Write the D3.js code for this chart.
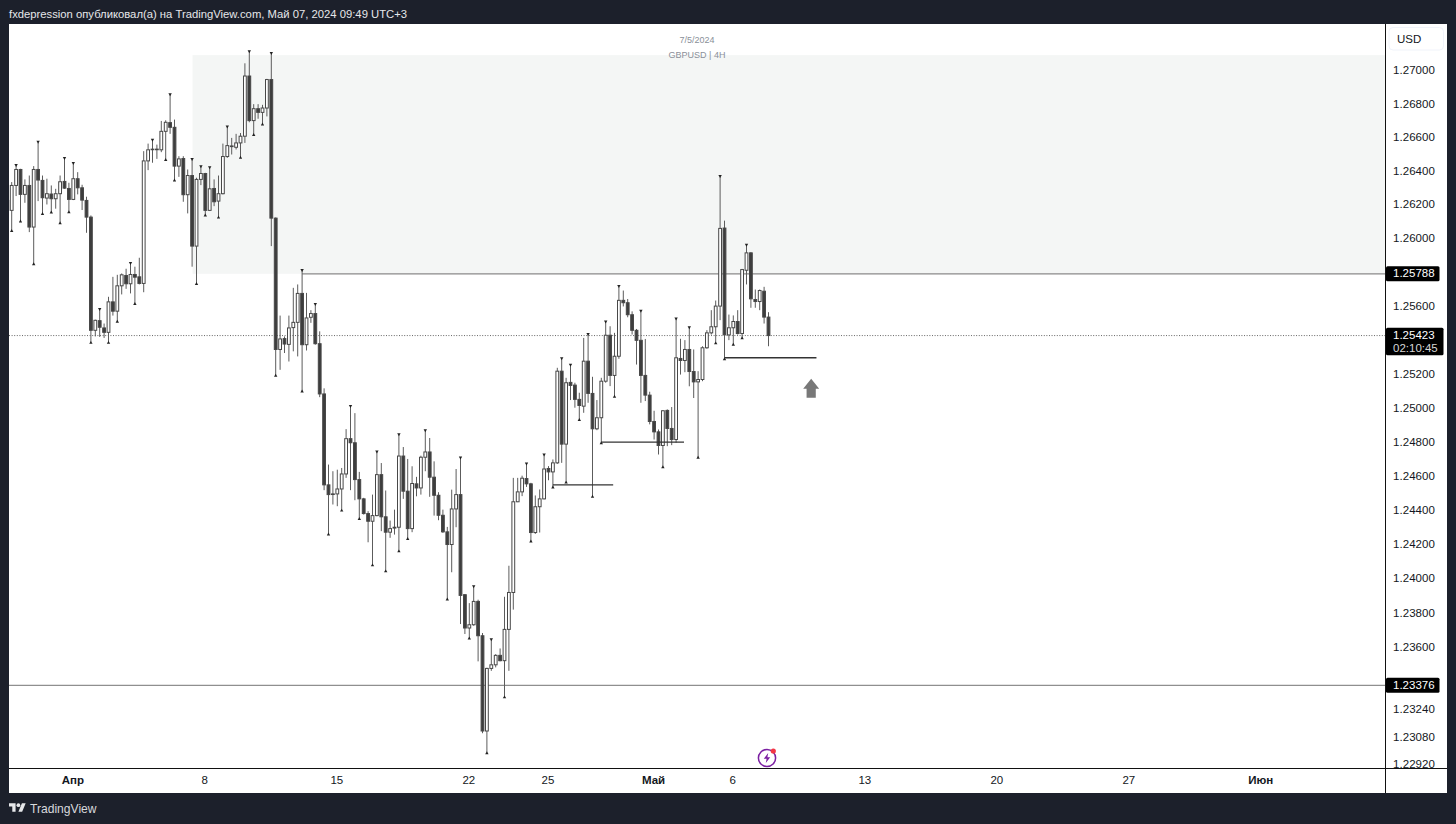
<!DOCTYPE html>
<html>
<head>
<meta charset="utf-8">
<script src="https://cdn.jsdelivr.net/npm/d3@7/dist/d3.min.js"></script>
<style>
html,body{margin:0;padding:0;background:#1c202b;overflow:hidden}
text{font-family:"Liberation Sans",Arial,sans-serif}
</style>
</head>
<body>
<svg id="chart" width="1456" height="824"></svg>
<script>
// 4H GBPUSD bars, first bar is clipped by the left edge
var opens = [1.26223,1.26164,1.26312,1.26407,1.26259,1.26312,1.26065,1.26407,1.26342,1.26237,1.26261,1.26233,1.26263,1.26336,1.26294,1.26229,1.26352,1.26298,1.26223,1.26124,
1.25454,1.25511,1.25468,1.25442,1.25622,1.25567,1.25717,1.25778,1.25729,1.25784,1.25770,1.25731,1.26458,1.26526,1.26526,1.26524,1.26634,1.26686,1.26658,1.26427,
1.26472,1.26257,1.26371,1.25952,1.26348,1.26383,1.26164,1.26294,1.26219,1.26263,1.26484,1.26547,1.26539,1.26565,1.26605,1.26964,1.26698,1.26769,1.26747,1.26773,
1.26943,1.26118,1.25341,1.25405,1.25371,1.25470,1.25501,1.25672,1.25369,1.25531,1.25553,1.25375,1.25079,1.24545,1.24492,1.24492,1.24521,1.24609,1.24816,1.24792,
1.24576,1.24463,1.24377,1.24332,1.24365,1.24605,1.24358,1.24268,1.24292,1.24297,1.24714,1.24508,1.24289,1.24551,1.24527,1.24707,1.24738,1.24590,1.24484,1.24367,
1.24270,1.24196,1.24404,1.24488,1.23903,1.23709,1.23728,1.23864,1.23664,1.23111,1.23474,1.23495,1.23550,1.23519,1.23701,1.23916,1.24446,1.24504,1.24582,1.24551,
1.24266,1.24417,1.24463,1.24641,1.24621,1.24674,1.25213,1.24784,1.25147,1.25131,1.25047,1.25007,1.25272,1.25082,1.24874,1.24939,1.25154,1.25425,1.25188,1.25301,
1.25631,1.25617,1.25546,1.25454,1.25395,1.25188,1.25072,1.24917,1.24856,1.24776,1.24982,1.24876,1.24811,1.25288,1.25276,1.25341,1.25211,1.25150,1.25164,1.25351,
1.25439,1.25475,1.25597,1.26059,1.25427,1.25469,1.25506,1.25435,1.25809,1.25912,1.25636,1.25624,1.25685,1.25532];
var highs = [1.26407,1.26332,1.26431,1.26411,1.26348,1.26371,1.26427,1.26569,1.26371,1.26352,1.26312,1.26292,1.26371,1.26472,1.26328,1.26443,1.26391,1.26316,1.26245,1.26134,
1.25517,1.25577,1.25494,1.25652,1.25770,1.25782,1.25790,1.25818,1.25849,1.25830,1.25883,1.26516,1.26561,1.26581,1.26555,1.26696,1.26700,1.26852,1.26704,1.26486,
1.26486,1.26407,1.26466,1.26358,1.26423,1.26387,1.26417,1.26348,1.26371,1.26561,1.26660,1.26595,1.26619,1.26624,1.27040,1.27109,1.26796,1.26796,1.26792,1.26947,
1.27099,1.26122,1.25541,1.25418,1.25541,1.25705,1.25725,1.25808,1.25675,1.25573,1.25606,1.25448,1.25112,1.24664,1.24625,1.24634,1.24644,1.24872,1.25005,1.24966,
1.24621,1.24469,1.24391,1.24488,1.24738,1.24673,1.24512,1.24336,1.24400,1.24839,1.24767,1.24697,1.24654,1.24592,1.24716,1.24863,1.24820,1.24683,1.24502,1.24400,
1.24299,1.24517,1.24638,1.24703,1.23907,1.23854,1.23949,1.23874,1.23680,1.23478,1.23641,1.23557,1.23590,1.23891,1.24072,1.24586,1.24586,1.24599,1.24667,1.24557,
1.24483,1.24518,1.24720,1.24655,1.24694,1.25233,1.25286,1.25174,1.25248,1.25145,1.25086,1.25409,1.25429,1.25180,1.25043,1.25174,1.25503,1.25478,1.25439,1.25713,
1.25689,1.25639,1.25566,1.25462,1.25566,1.25403,1.25092,1.24980,1.24870,1.24984,1.24988,1.25002,1.25521,1.25404,1.25396,1.25469,1.25341,1.25213,1.25360,1.25455,
1.25573,1.25630,1.26365,1.26103,1.25547,1.25542,1.25573,1.25817,1.25957,1.25916,1.25695,1.25695,1.25711,1.25561];
var lows = [1.26140,1.26045,1.26249,1.26101,1.26209,1.26035,1.25847,1.26219,1.26146,1.26199,1.26154,1.26174,1.26091,1.26292,1.26156,1.26225,1.26259,1.26166,1.26031,1.25383,
1.25418,1.25415,1.25409,1.25383,1.25541,1.25507,1.25666,1.25699,1.25672,1.25612,1.25725,1.25679,1.26403,1.26447,1.26470,1.26510,1.26466,1.26619,1.26344,1.26363,
1.26215,1.26146,1.25830,1.25731,1.26314,1.26136,1.26160,1.26189,1.26124,1.26259,1.26476,1.26496,1.26526,1.26480,1.26565,1.26688,1.26615,1.26709,1.26678,1.26723,
1.25952,1.25189,1.25221,1.25320,1.25270,1.25330,1.25300,1.25096,1.25335,1.25498,1.25369,1.25060,1.24514,1.24258,1.24430,1.24420,1.24397,1.24586,1.24514,1.24455,
1.24348,1.24371,1.24209,1.24077,1.24361,1.24274,1.24042,1.24235,1.24254,1.24159,1.24463,1.24231,1.24268,1.24478,1.24488,1.24625,1.24475,1.24365,1.24338,1.24264,
1.23878,1.24034,1.24297,1.23732,1.23674,1.23651,1.23722,1.23515,1.23098,1.22985,1.23460,1.23480,1.23515,1.23309,1.23460,1.23816,1.24444,1.24479,1.24533,1.24217,
1.24258,1.24266,1.24460,1.24572,1.24533,1.24668,1.24674,1.24561,1.25043,1.24998,1.24929,1.24968,1.25027,1.24478,1.24866,1.24792,1.25145,1.25125,1.25066,1.25286,
1.25595,1.25531,1.25429,1.25252,1.25027,1.25037,1.24900,1.24811,1.24723,1.24651,1.24772,1.24778,1.24792,1.25193,1.25207,1.25124,1.25055,1.24707,1.25154,1.25345,
1.25429,1.25380,1.25514,1.25286,1.25396,1.25372,1.25429,1.25410,1.25725,1.25587,1.25587,1.25573,1.25494,1.25360];
var closes = [1.26164,1.26312,1.26407,1.26259,1.26312,1.26065,1.26407,1.26344,1.26239,1.26263,1.26233,1.26263,1.26334,1.26296,1.26229,1.26352,1.26298,1.26225,1.26124,1.25454,
1.25513,1.25472,1.25442,1.25622,1.25567,1.25717,1.25782,1.25729,1.25784,1.25768,1.25731,1.26458,1.26524,1.26528,1.26528,1.26634,1.26688,1.26658,1.26427,1.26470,
1.26257,1.26371,1.25952,1.26348,1.26383,1.26164,1.26292,1.26215,1.26263,1.26484,1.26549,1.26543,1.26565,1.26605,1.26964,1.26698,1.26769,1.26747,1.26773,1.26943,
1.26118,1.25341,1.25403,1.25373,1.25468,1.25501,1.25672,1.25369,1.25527,1.25553,1.25375,1.25079,1.24545,1.24488,1.24490,1.24521,1.24609,1.24816,1.24792,1.24576,
1.24463,1.24377,1.24332,1.24365,1.24605,1.24358,1.24268,1.24289,1.24297,1.24714,1.24508,1.24289,1.24553,1.24527,1.24707,1.24738,1.24590,1.24484,1.24367,1.24270,
1.24196,1.24404,1.24488,1.23899,1.23709,1.23728,1.23864,1.23664,1.23111,1.23474,1.23495,1.23550,1.23519,1.23701,1.23916,1.24446,1.24504,1.24584,1.24551,1.24266,
1.24417,1.24463,1.24638,1.24621,1.24674,1.25213,1.24784,1.25145,1.25129,1.25047,1.25011,1.25272,1.25082,1.24874,1.24939,1.25154,1.25425,1.25188,1.25301,1.25631,
1.25617,1.25546,1.25454,1.25395,1.25188,1.25072,1.24917,1.24856,1.24776,1.24980,1.24876,1.24811,1.25292,1.25276,1.25341,1.25211,1.25150,1.25164,1.25351,1.25439,
1.25475,1.25597,1.26057,1.25427,1.25469,1.25506,1.25435,1.25813,1.25912,1.25640,1.25624,1.25689,1.25532,1.25423];

// fractal markers above highs / below lows (bar numbers)
var high_marks = [2,7,13,15,21,28,33,37,42,44,46,50,55,60,67,70,78,84,89,95,103,106,110,118,122,126,128,132,136,139,144,152,155,162,168];
var low_marks = [1,3,6,8,10,12,14,19,23,25,29,36,38,43,45,48,53,56,58,61,67,73,76,80,83,86,89,91,100,105,109,113,119,124,127,130,133,135,138,149,157,161,163,165,167];

var price_ticks = [1.27,1.268,1.266,1.264,1.262,1.26,1.256,1.252,1.25,1.248,1.246,1.244,1.242,1.24,1.238,1.236,1.2324,1.2308,1.2292];
var time_ticks = [15,45,75,105,123,147,165,195,225,255,285];
var time_labels = ["Апр","8","15","22","25","Май","6","13","20","27","Июн"];
var month_labels = ["Апр","Май","Июн"];

// drawn levels: [first bar, last bar, price]
var hlines = [[124,137.7,1.24545],[135,153.8,1.24796],[163,183.9,1.25292]];
var zone_top = 1.27089, zone_bottom = 1.25788, zone_start = 42.1;
var resistance = 1.25788, support = 1.23376, last_price = 1.25423;
var arrow_bar = 182.7, arrow_price = 1.25169;

var W = 1456, H = 824;
var left = 9, right = 1385.5, top_y = 24, axis_y = 768.5, bottom_y = 793, outer_right = 1447;
var bg = "#1c202b";

var x = d3.scaleLinear().domain([0,285]).range([7.3,1261.3]);
var y = d3.scaleLog().domain([1.27,1.2292]).range([70,764]);

var svg = d3.select("#chart");
svg.append("rect").attr("width",W).attr("height",H).attr("fill",bg);
svg.append("rect").attr("x",left).attr("y",top_y).attr("width",outer_right-left).attr("height",bottom_y-top_y).attr("fill","#fff");

var defs = svg.append("defs");
defs.append("clipPath").attr("id","plot").append("rect").attr("x",left).attr("y",top_y).attr("width",right-left).attr("height",axis_y-top_y);
defs.append("clipPath").attr("id","scale").append("rect").attr("x",right).attr("y",top_y).attr("width",outer_right-right).attr("height",axis_y-top_y);

var plot = svg.append("g").attr("clip-path","url(#plot)");

// zone and levels
plot.append("rect").attr("x",x(zone_start)).attr("y",y(zone_top)).attr("width",right-x(zone_start)).attr("height",y(zone_bottom)-y(zone_top)).attr("fill","#f4f6f5");
plot.append("line").attr("x1",x(67)).attr("x2",right).attr("y1",y(resistance)).attr("y2",y(resistance)).attr("stroke","#8a8a8a").attr("stroke-width",1.2);
plot.append("line").attr("x1",left).attr("x2",right).attr("y1",y(support)).attr("y2",y(support)).attr("stroke","#8f8f8f").attr("stroke-width",1.2);
plot.append("line").attr("x1",left).attr("x2",right).attr("y1",y(last_price)).attr("y2",y(last_price)).attr("stroke","#666").attr("stroke-width",1).attr("stroke-dasharray","1 1.6");

// candles
var bars = d3.range(opens.length);
plot.selectAll("line.wick").data(bars).enter().append("line").attr("class","wick")
	.attr("x1",function(d){return x(d)}).attr("x2",function(d){return x(d)})
	.attr("y1",function(d){return y(highs[d])}).attr("y2",function(d){return y(lows[d])})
	.attr("stroke","#5c5c5c").attr("stroke-width",1);
plot.selectAll("rect.body").data(bars).enter().append("rect").attr("class","body")
	.attr("x",function(d){return x(d)-1.4}).attr("width",2.8)
	.attr("y",function(d){return y(Math.max(opens[d],closes[d]))})
	.attr("height",function(d){return Math.max(0.6,y(Math.min(opens[d],closes[d]))-y(Math.max(opens[d],closes[d])))})
	.attr("fill",function(d){return closes[d]>=opens[d]?"#fff":"#3d3d3d"})
	.attr("stroke","#484848").attr("stroke-width",1);

// fractal markers
var tri = d3.symbol().type(d3.symbolTriangle).size(5);
plot.selectAll("path.hm").data(high_marks).enter().append("path").attr("class","hm").attr("d",tri).attr("fill","#222")
	.attr("transform",function(d){return "translate("+x(d)+","+(y(highs[d])-0.5)+") rotate(180)"});
plot.selectAll("path.lm").data(low_marks).enter().append("path").attr("class","lm").attr("d",tri).attr("fill","#222")
	.attr("transform",function(d){return "translate("+x(d)+","+(y(lows[d])+0.5)+")"});

// hand drawn support lines
plot.selectAll("line.hl").data(hlines).enter().append("line").attr("class","hl")
	.attr("x1",function(d){return x(d[0])}).attr("x2",function(d){return x(d[1])})
	.attr("y1",function(d){return y(d[2])}).attr("y2",function(d){return y(d[2])})
	.attr("stroke","#333").attr("stroke-width",1.3);

// up arrow
plot.append("path").attr("d","M0,0 L8,10 L4.6,10 L4.6,19 L-4.6,19 L-4.6,10 L-8,10 Z")
	.attr("transform","translate("+x(arrow_bar)+","+y(arrow_price)+")").attr("fill","#787878");

// watermark text
svg.append("text").attr("x",697).attr("y",43).attr("text-anchor","middle").attr("font-size",9).attr("fill","#8a8f99").text("7/5/2024");
svg.append("text").attr("x",697).attr("y",58).attr("text-anchor","middle").attr("font-size",9).attr("fill","#8a8f99").text("GBPUSD | 4H");

// purple bolt icon
var icon = svg.append("g").attr("transform","translate(767,758)");
icon.append("circle").attr("r",8.6).attr("fill","#fff").attr("stroke","#7b1fa2").attr("stroke-width",1.5);
icon.append("path").attr("d","M1.2,-5 L-3.2,0.8 L-0.4,0.8 L-1.2,5 L3.2,-0.8 L0.4,-0.8 Z").attr("fill","#7b1fa2");
icon.append("circle").attr("cx",6.3).attr("cy",-7).attr("r",2.6).attr("fill","#f23645");

// frame lines
svg.append("line").attr("x1",right).attr("x2",right).attr("y1",top_y).attr("y2",bottom_y).attr("stroke","#111").attr("stroke-width",1);
svg.append("line").attr("x1",left).attr("x2",outer_right).attr("y1",axis_y).attr("y2",axis_y).attr("stroke","#111").attr("stroke-width",1);

// price axis
var yAxis = d3.axisRight(y).tickValues(price_ticks).tickSize(0).tickPadding(0).tickFormat(d3.format(".5f"));
var ya = svg.append("g").attr("clip-path","url(#scale)").append("g").attr("transform","translate(1393,0)").call(yAxis);
ya.select(".domain").remove();
ya.selectAll("text").attr("font-size",11.5).attr("fill","#131722").attr("font-family","Liberation Sans").attr("letter-spacing","0.05px");

// price tags
function tag(price,w,h,lines){
	var c = y(price)+(lines.length>1?6:0);
	svg.append("rect").attr("x",right+0.5).attr("y",c-h/2).attr("width",w).attr("height",h).attr("rx",1.5).attr("fill","#000");
	lines.forEach(function(t,i){
		svg.append("text").attr("x",1393).attr("y",c-h/2+11+i*13).attr("font-size",11.5).attr("fill",i?"#d6d6d6":"#fff").text(t);
	});
}
tag(resistance,53.5,15,["1.25788"]);
tag(last_price,57.5,27.5,["1.25423","02:10:45"]);
tag(support,53.5,15,["1.23376"]);

// currency button
svg.append("rect").attr("x",1389).attr("y",27.5).attr("width",54.5).attr("height",22.5).attr("rx",4).attr("fill","#fff").attr("stroke","#f0f3fa");
svg.append("text").attr("x",1397).attr("y",42.5).attr("font-size",11.5).attr("fill","#131722").text("USD");

// time axis
var xAxis = d3.axisBottom(x).tickValues(time_ticks).tickSize(0).tickPadding(0).tickFormat(function(d,i){return time_labels[i]});
var xa = svg.append("g").attr("transform","translate(-1,776)").call(xAxis);
xa.select(".domain").remove();
xa.selectAll("text").attr("font-size",11.5).attr("fill","#131722").attr("font-family","Liberation Sans")
	.attr("font-weight",function(d,i){return month_labels.indexOf(time_labels[i])>=0?"bold":"normal"});

// header and footer
svg.append("text").attr("x",9).attr("y",18).attr("font-size",11.27).attr("fill","#e6e7ea").text("fxdepression опубликовал(а) на TradingView.com, Май 07, 2024 09:49 UTC+3");
svg.append("path").attr("d","M14 22H7V11H0V4h14v18zM28 22h-8l7.5-18h8L28 22z").attr("transform","translate(9,801.4) scale(0.47)").attr("fill","#e6e7ea");
svg.append("circle").attr("cx",9+20*0.47).attr("cy",801.4+8*0.47).attr("r",4*0.47).attr("fill","#e6e7ea");
svg.append("text").attr("x",30).attr("y",813).attr("font-size",12.1).attr("fill","#d8d9dc").text("TradingView");
</script>
</body>
</html>
